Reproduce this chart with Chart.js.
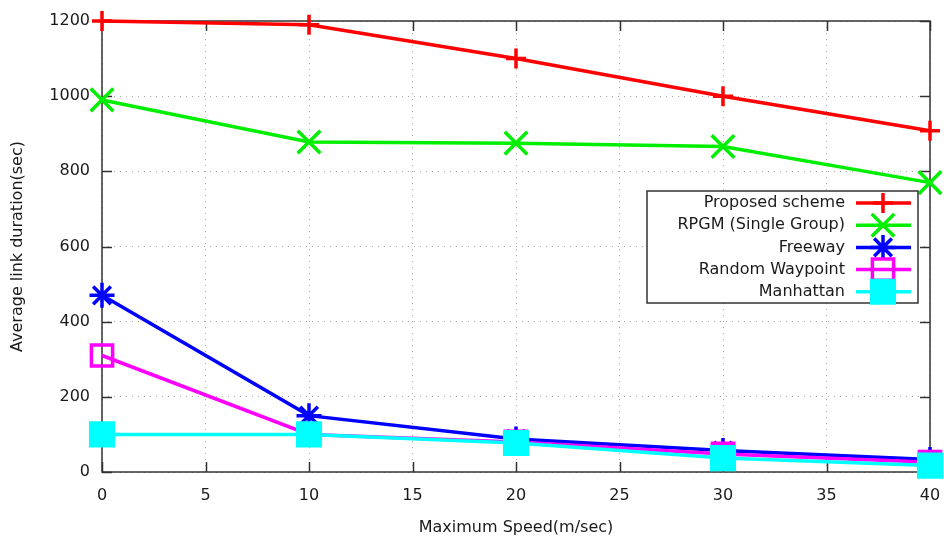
<!DOCTYPE html>
<html>
<head>
<meta charset="utf-8">
<script src="https://cdn.jsdelivr.net/npm/chart.js@4.4.0/dist/chart.umd.min.js"></script>
<style>
  html, body { margin: 0; padding: 0; background: #fff; }
</style>
</head>
<body>
<canvas id="linkChart" width="944" height="537"></canvas>
<script>
const speeds = [0, 10, 20, 30, 40];
const proposedScheme = [1200, 1190, 1100, 1000, 908];
const rpgmSingleGroup = [990, 878, 875, 866, 770];
const freeway = [470, 150, 88, 57, 33];
const randomWaypoint = [310, 100, 80, 48, 26];
const manhattan = [100, 100, 77, 37, 17];

const seriesNames = ['Proposed scheme', 'RPGM (Single Group)', 'Freeway', 'Random Waypoint', 'Manhattan'];
const seriesValues = [proposedScheme, rpgmSingleGroup, freeway, randomWaypoint, manhattan];

// marker look per series (gnuplot-ish)
const seriesStyles = [
  { color: '#ff0000', point: 'cross', radius: 10, fill: 'rgba(0,0,0,0)' },
  { color: '#00ee00', point: 'crossRot', radius: 16, fill: 'rgba(0,0,0,0)' },
  { color: '#0000ff', point: 'star', radius: 12.5, fill: 'rgba(0,0,0,0)' },
  { color: '#ff00ff', point: 'rect', radius: 15, fill: 'rgba(0,0,0,0)' },
  { color: '#00ffff', point: 'rect', radius: 16, fill: '#00ffff' },
];

const FONT = { family: '"DejaVu Sans", Verdana, sans-serif', size: 16 };
const TEXT = '#1a1a1a';
const FRAME = '#333333';

const datasets = seriesNames.map((name, i) => ({
  label: name,
  data: speeds.map((s, j) => ({ x: s, y: seriesValues[i][j] })),
  borderColor: seriesStyles[i].color,
  borderWidth: 3.5,
  pointStyle: seriesStyles[i].point,
  pointRadius: seriesStyles[i].radius,
  pointBorderColor: seriesStyles[i].color,
  pointBackgroundColor: seriesStyles[i].fill,
  pointBorderWidth: 3.5,
  tension: 0,
  clip: false,
  order: seriesNames.length - i,
}));

// border box + inward ticks like gnuplot
const frame = {
  id: 'frame',
  beforeDatasetsDraw(chart) {
    const { ctx, chartArea: a, scales } = chart;
    ctx.save();
    ctx.strokeStyle = FRAME;
    ctx.lineWidth = 1.5;
    ctx.beginPath();
    scales.y.ticks.forEach(t => {
      const py = Math.round(scales.y.getPixelForValue(t.value)) + 0.5;
      ctx.moveTo(a.left, py); ctx.lineTo(a.left + 10, py);
      ctx.moveTo(a.right, py); ctx.lineTo(a.right - 10, py);
    });
    scales.x.ticks.forEach(t => {
      const px = Math.round(scales.x.getPixelForValue(t.value)) + 0.5;
      ctx.moveTo(px, a.bottom); ctx.lineTo(px, a.bottom - 10);
      ctx.moveTo(px, a.top); ctx.lineTo(px, a.top + 10);
    });
    ctx.stroke();
    ctx.strokeRect(a.left, a.top, a.right - a.left, a.bottom - a.top);
    ctx.restore();
  },
};

// legend: text right aligned, sample to the right
const keyBox = {
  id: 'keyBox',
  afterDatasetsDraw(chart) {
    const { ctx, chartArea: a } = chart;
    const right = a.right - 12, top = a.top + 170;
    const left = right - 271, bottom = top + 112;
    ctx.save();
    ctx.fillStyle = '#fff';
    ctx.fillRect(left, top, right - left, bottom - top);
    ctx.strokeStyle = FRAME;
    ctx.lineWidth = 1.5;
    ctx.strokeRect(left, top, right - left, bottom - top);
    ctx.font = FONT.size + 'px ' + FONT.family;
    ctx.textAlign = 'right';
    ctx.textBaseline = 'middle';
    seriesNames.forEach((name, i) => {
      const st = seriesStyles[i];
      const y = top + 12 + i * 22.2;
      ctx.fillStyle = TEXT;
      ctx.fillText(name, right - 73, y);
      ctx.strokeStyle = st.color;
      ctx.lineWidth = 3.5;
      ctx.beginPath();
      ctx.moveTo(right - 62, y); ctx.lineTo(right - 7, y);
      ctx.stroke();
      ctx.fillStyle = st.fill;
      Chart.helpers.drawPoint(ctx, {
        pointStyle: st.point, radius: st.radius, rotation: 0, borderWidth: 3.5,
      }, right - 35, y);
    });
    ctx.restore();
  },
};

new Chart('linkChart', {
  type: 'line',
  data: { datasets },
  plugins: [frame, keyBox],
  options: {
    responsive: false,
    animation: false,
    events: [],
    layout: { autoPadding: false, padding: { top: 21, right: 14, left: 8, bottom: 0 } },
    plugins: { legend: { display: false }, tooltip: { enabled: false } },
    scales: {
      x: {
        type: 'linear',
        min: 0, max: 40,
        ticks: { stepSize: 5, color: TEXT, font: FONT, padding: 14 },
        grid: { color: '#a8a8a8', lineWidth: 1, drawTicks: false },
        border: { display: false, dash: [1, 5] },
        title: { display: true, text: 'Maximum Speed(m/sec)', color: TEXT, font: FONT, padding: 0 },
        afterFit(scale) {
          scale.height = 65;
          scale.paddingLeft = 0;
          scale.paddingRight = 0;
        },
      },
      y: {
        min: 0, max: 1200,
        ticks: { stepSize: 200, color: TEXT, font: FONT, padding: 12, callback: v => String(v) },
        grid: { color: '#a8a8a8', lineWidth: 1, drawTicks: false },
        border: { display: false, dash: [1, 5] },
        title: { display: true, text: 'Average link duration(sec)', color: TEXT, font: FONT, padding: 0 },
        afterFit(scale) {
          scale.width = 94;
          scale.paddingTop = 0;
          scale.paddingBottom = 0;
        },
      },
    },
  },
});
</script>
</body>
</html>
